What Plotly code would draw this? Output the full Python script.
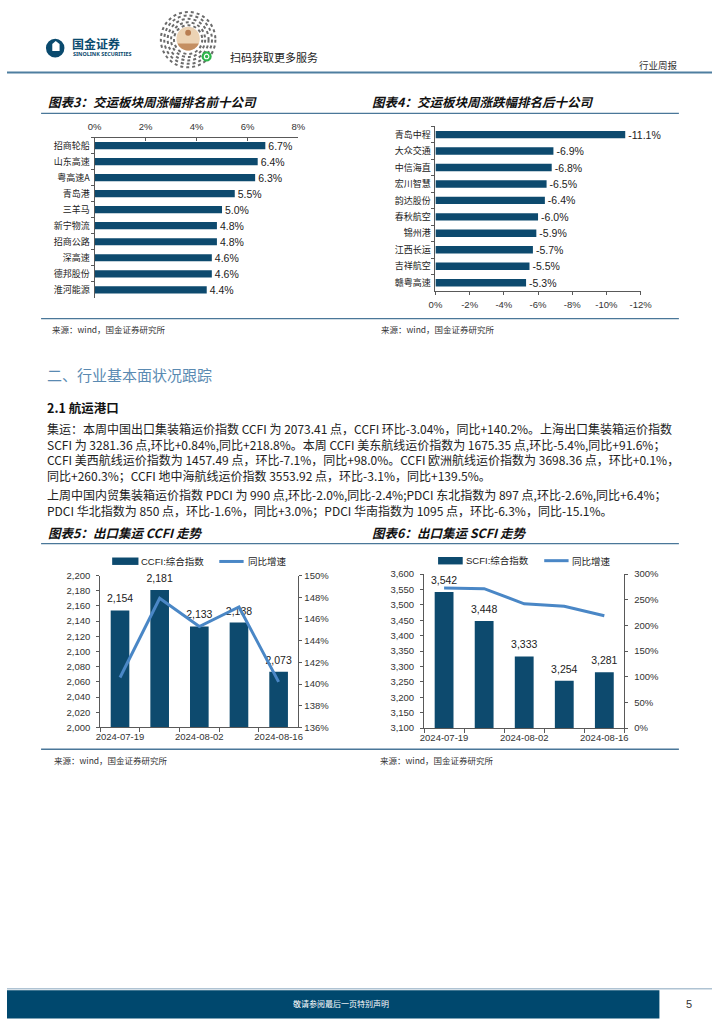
import math
import plotly.graph_objects as go

W, H = 724, 1024


def X(px):
    return px / W


def Y(py):
    return 1 - py / H


BAR = "#0d4a6e"
LINE = "#4a87c6"
AX = "#595959"
RULE = "#4a7799"
TXT = "#222222"
CJK = "Noto Sans CJK SC"
LAT = "Liberation Sans, Noto Sans CJK SC"

# ---------------- data ----------------
top_names = ["招商轮船", "山东高速", "粤高速A", "青岛港", "三羊马",
             "新宁物流", "招商公路", "深高速", "德邦股份", "淮河能源"]
top_pct = [6.7, 6.4, 6.3, 5.5, 5.0, 4.8, 4.8, 4.6, 4.6, 4.4]
top_ticks = [0, 2, 4, 6, 8]

bottom_names = ["青岛中程", "大众交通", "中信海直", "宏川智慧", "韵达股份",
                "春秋航空", "锦州港", "江西长运", "吉祥航空", "赣粤高速"]
bottom_pct = [-11.1, -6.9, -6.8, -6.5, -6.4, -6.0, -5.9, -5.7, -5.5, -5.3]
bottom_ticks = [0, -2, -4, -6, -8, -10, -12]

weeks = ["2024-07-19", "2024-07-26", "2024-08-02", "2024-08-09", "2024-08-16"]
week_labels = [w if i % 2 == 0 else "" for i, w in enumerate(weeks)]

ccfi = [2154, 2181, 2133, 2138, 2073.41]
ccfi_yoy = [140.6, 147.9, 145.3, 147.1, 140.2]

scfi = [3542, 3448, 3333, 3254, 3281.36]
scfi_yoy = [273.0, 271.7, 242.2, 237.6, 218.8]

fig = go.Figure()

# chart 3
fig.add_trace(go.Bar(
    x=top_pct, y=top_names, orientation="h", xaxis="x", yaxis="y",
    marker=dict(color=BAR, line=dict(width=0)), width=0.45,
    text=[f"{v:.1f}%" for v in top_pct], textposition="outside",
    constraintext="none",
    textfont=dict(family=LAT, size=10.5, color=TXT), cliponaxis=False,
    hoverinfo="skip"))

# chart 4
fig.add_trace(go.Bar(
    x=bottom_pct, y=bottom_names, orientation="h", xaxis="x2", yaxis="y2",
    marker=dict(color=BAR, line=dict(width=0)), width=0.45,
    text=[f"{v:.1f}%" for v in bottom_pct], textposition="outside",
    constraintext="none",
    textfont=dict(family=LAT, size=10.5, color=TXT), cliponaxis=False,
    hoverinfo="skip"))

# chart 5
fig.add_trace(go.Bar(
    x=weeks, y=ccfi, xaxis="x3", yaxis="y3",
    marker=dict(color=BAR, line=dict(width=0)), width=0.47, hoverinfo="skip"))
fig.add_trace(go.Scatter(
    x=weeks, y=ccfi, xaxis="x3", yaxis="y3", mode="markers+text",
    marker=dict(size=7, opacity=0),
    text=[f"{v:,.0f}" for v in ccfi], textposition="top center",
    textfont=dict(family=LAT, size=10.5, color=TXT), cliponaxis=False,
    hoverinfo="skip"))
fig.add_trace(go.Scatter(
    x=weeks, y=ccfi_yoy, xaxis="x3", yaxis="y4", mode="lines",
    line=dict(color=LINE, width=3), hoverinfo="skip"))

# chart 6
fig.add_trace(go.Bar(
    x=weeks, y=scfi, xaxis="x4", yaxis="y5",
    marker=dict(color=BAR, line=dict(width=0)), width=0.47, hoverinfo="skip"))
fig.add_trace(go.Scatter(
    x=weeks, y=scfi, xaxis="x4", yaxis="y5", mode="markers+text",
    marker=dict(size=7, opacity=0),
    text=[f"{v:,.0f}" for v in scfi], textposition="top center",
    textfont=dict(family=LAT, size=10.5, color=TXT), cliponaxis=False,
    hoverinfo="skip"))
fig.add_trace(go.Scatter(
    x=weeks, y=scfi_yoy, xaxis="x4", yaxis="y6", mode="lines",
    line=dict(color=LINE, width=3), hoverinfo="skip"))


def ax(**kw):
    base = dict(showline=True, linecolor=AX, linewidth=1, showgrid=False,
                zeroline=False, ticks="outside", ticklen=3, tickcolor=AX,
                tickwidth=1, fixedrange=True, tickangle=0,
                tickfont=dict(family=LAT, size=9.5, color="#333333"))
    base.update(kw)
    return base


cat_font = dict(family=CJK, size=9, color=TXT)

layout_axes = dict(
    xaxis=ax(domain=[X(90), X(299.3)], anchor="y", side="top", range=[0, 8],
             tickmode="array", tickvals=top_ticks,
             ticktext=[f"{v}%" for v in top_ticks], ticks="inside",
             ticklabelstandoff=3),
    yaxis=ax(domain=[Y(295), Y(133)], anchor="x", type="category",
             range=[9.5, -0.5], tickson="boundaries", tickfont=cat_font,
             ticklabelstandoff=2),
    xaxis2=ax(domain=[X(440), X(650.7)], anchor="y2", range=[0, -12],
              tickmode="array", tickvals=bottom_ticks,
              ticktext=[f"{v}%" for v in bottom_ticks], ticklabelstandoff=2),
    yaxis2=ax(domain=[Y(288), Y(121.7)], anchor="x2", type="category",
              range=[9.5, -0.5], tickson="boundaries", tickfont=cat_font,
              ticklabelstandoff=2),
    xaxis3=ax(domain=[X(95.7), X(299.3)], anchor="y3", type="category",
              tickmode="array", tickvals=weeks, ticktext=week_labels,
              tickson="boundaries", ticklen=4, range=[-0.5, 4.5]),
    yaxis3=ax(domain=[Y(729.3), Y(575.7)], anchor="x3", range=[2000, 2200],
              dtick=20, tickformat=",", ticklabelstandoff=4),
    yaxis4=ax(overlaying="y3", side="right", anchor="x3", range=[136, 150],
              dtick=2, ticksuffix="%"),
    xaxis4=ax(domain=[X(428.3), X(634)], anchor="y5", type="category",
              tickmode="array", tickvals=weeks, ticktext=week_labels,
              tickson="boundaries", ticklen=4, range=[-0.5, 4.5]),
    yaxis5=ax(domain=[Y(730), Y(574.3)], anchor="x4", range=[3100, 3600],
              dtick=50, tickformat=",", ticklabelstandoff=4),
    yaxis6=ax(overlaying="y5", side="right", anchor="x4", range=[0, 300],
              dtick=50, ticksuffix="%", ticklabelstandoff=4),
)


def txt(s, x, y, size, color=TXT, family=CJK, xanchor="left", align="left"):
    return dict(text=s, x=X(x), y=Y(y), xref="paper", yref="paper",
                xanchor=xanchor, yanchor="middle", showarrow=False,
                align=align, font=dict(family=family, size=size, color=color))


def hline(x0, x1, y, color, width):
    return dict(type="line", xref="paper", yref="paper", x0=X(x0), x1=X(x1),
                y0=Y(y), y1=Y(y), line=dict(color=color, width=width))


def rect(x0, y0, x1, y1, color):
    return dict(type="rect", xref="paper", yref="paper", x0=X(x0), x1=X(x1),
                y0=Y(y1), y1=Y(y0), fillcolor=color, line=dict(width=0))


def circ(cx, cy, r, fill=None, line=None):
    d = dict(type="circle", xref="paper", yref="paper", x0=X(cx - r),
             x1=X(cx + r), y0=Y(cy + r), y1=Y(cy - r))
    if fill:
        d["fillcolor"] = fill
    d["line"] = line if line else dict(width=0)
    return d


shapes = []
annotations = []

# ---------- header ----------
shapes.append(circ(49.5, 42.5, 9.5, fill="#0a4a6e"))
shapes.append(dict(type="path", xref="paper", yref="paper",
                   path=("M {},{} L {},{} L {},{} L {},{} L {},{} Z").format(
                       X(46.5), Y(45.5), X(46.5), Y(38.5), X(50), Y(35.5),
                       X(54), Y(38.5), X(54), Y(45.5)),
                   fillcolor="white", line=dict(width=0)))
annotations.append(txt("<b>国金证券</b>", 65, 37.5, 12, color="#0a4a6e"))
annotations.append(txt("<b>SINOLINK SECURITIES</b>", 65.5, 48.5, 5.4,
                       color="#0a4a6e", family="Noto Sans"))

# mini-program code
for r in [28, 24.5, 21, 17.5, 14.5]:
    shapes.append(circ(186, 34, r, line=dict(color="#6b6b6b", width=2, dash="dot")))
shapes.append(circ(186, 33, 12, fill="#ecd3b4"))
pts = []
a0 = math.asin(5 / 12)
for i in range(21):
    t = a0 + (math.pi - 2 * a0) * i / 20
    pts.append((186 + 12 * math.cos(t), 33 + 12 * math.sin(t)))
path = "M " + " L ".join(f"{X(px)},{Y(py)}" for px, py in pts) + " Z"
shapes.append(dict(type="path", xref="paper", yref="paper", path=path,
                   fillcolor="#c48f62", line=dict(width=0)))
shapes.append(circ(186, 27, 3, fill="#b87d52"))
shapes.append(circ(205, 51, 5.2, fill="#2db54b"))
shapes.append(circ(205, 51, 2.3, line=dict(color="white", width=1.2)))

annotations.append(txt("扫码获取更多服务", 227, 52, 11, color="#222222"))
annotations.append(txt("行业周报", 647, 60, 9.5, color="#333333"))
shapes.append(hline(0, 724, 67.3, "#4e7ea0", 2))

# ---------- chart titles & rules ----------
annotations.append(txt("<b><i>图表3：交运板块周涨幅排名前十公司</i></b>", 40, 97, 12.5, color="#111111"))
annotations.append(txt("<b><i>图表4：交运板块周涨跌幅排名后十公司</i></b>", 373, 97, 12.5, color="#111111"))
shapes.append(hline(35, 690, 108.5, RULE, 1.3))
shapes.append(hline(35, 690, 316, RULE, 1.3))
annotations.append(txt("来源：wind，国金证券研究所", 44, 326.5, 8.5, color="#333333"))
annotations.append(txt("来源：wind，国金证券研究所", 382, 326.5, 8.5, color="#333333"))

annotations.append(txt("<b><i>图表5：出口集运 CCFI 走势</i></b>", 40, 532, 12.5, color="#111111"))
annotations.append(txt("<b><i>图表6：出口集运 SCFI 走势</i></b>", 373, 532, 12.5, color="#111111"))
shapes.append(hline(35, 690, 543.5, RULE, 1.3))
shapes.append(hline(35, 690, 751.3, RULE, 1.3))
annotations.append(txt("来源：wind，国金证券研究所", 46, 762.5, 8.5, color="#333333"))
annotations.append(txt("来源：wind，国金证券研究所", 381, 762.5, 8.5, color="#333333"))

# legends (drawn manually)
shapes.append(rect(108, 557.5, 135, 565, BAR))
annotations.append(txt("CCFI:综合指数", 136, 561.5, 9.5, family=LAT))
shapes.append(hline(218, 243, 561.5, LINE, 3))
annotations.append(txt("同比增速", 245, 561.5, 9.5))

shapes.append(rect(442.7, 557, 468, 564.5, BAR))
annotations.append(txt("SCFI:综合指数", 469.5, 561, 9.5, family=LAT))
shapes.append(hline(551.7, 576.7, 560.7, LINE, 3))
annotations.append(txt("同比增速", 578, 561, 9.5))

# ---------- body text ----------
annotations.append(txt("二、行业基本面状况跟踪", 39, 372.5, 15, color="#5a8ab2"))
annotations.append(txt("<b>2.1 航运港口</b>", 39, 405.5, 12.5, color="#111111"))

para1 = [
    "集运：本周中国出口集装箱运价指数 CCFI 为 2073.41 点，CCFI 环比-3.04%，同比+140.2%。上海出口集装箱运价指数",
    "SCFI 为 3281.36 点,环比+0.84%,同比+218.8%。本周 CCFI 美东航线运价指数为 1675.35 点,环比-5.4%,同比+91.6%；",
    "CCFI 美西航线运价指数为 1457.49 点，环比-7.1%，同比+98.0%。CCFI 欧洲航线运价指数为 3698.36 点，环比+0.1%，",
    "同比+260.3%；CCFI 地中海航线运价指数 3553.92 点，环比-3.1%，同比+139.5%。",
]
para2 = [
    "上周中国内贸集装箱运价指数 PDCI 为 990 点,环比-2.0%,同比-2.4%;PDCI 东北指数为 897 点,环比-2.6%,同比+6.4%；",
    "PDCI 华北指数为 850 点，环比-1.6%，同比+3.0%；PDCI 华南指数为 1095 点，环比-6.3%，同比-15.1%。",
]
LS = 15.6  # plotly multi-line spacing at 12px
annotations.append(txt("<br>".join(para1), 39, 427.5 + LS * (len(para1) - 1) / 2, 12))
annotations.append(txt("<br>".join(para2), 39, 494.5 + LS * (len(para2) - 1) / 2, 12))

# ---------- footer ----------
shapes.append(hline(0, 724, 993.5, "#afc3d3", 1.5))
shapes.append(rect(0, 995, 670, 1023.5, "#00486e"))
annotations.append(txt("敬请参阅最后一页特别声明", 343, 1008.5, 8, color="white", xanchor="center"))
annotations.append(txt("5", 700, 1008.5, 11, color="#333333", family=LAT, xanchor="center"))

fig.update_layout(
    width=W, height=H, autosize=False,
    margin=dict(l=0, r=0, t=0, b=0),
    paper_bgcolor="white", plot_bgcolor="white",
    showlegend=False,
    shapes=shapes, annotations=annotations,
    font=dict(family=CJK, color=TXT),
    **layout_axes,
)

fig.write_html(
    "out.html",
    config={"displayModeBar": False},
    post_script="document.body.style.margin='0';document.body.style.padding='0';document.body.style.overflow='hidden';",
)
